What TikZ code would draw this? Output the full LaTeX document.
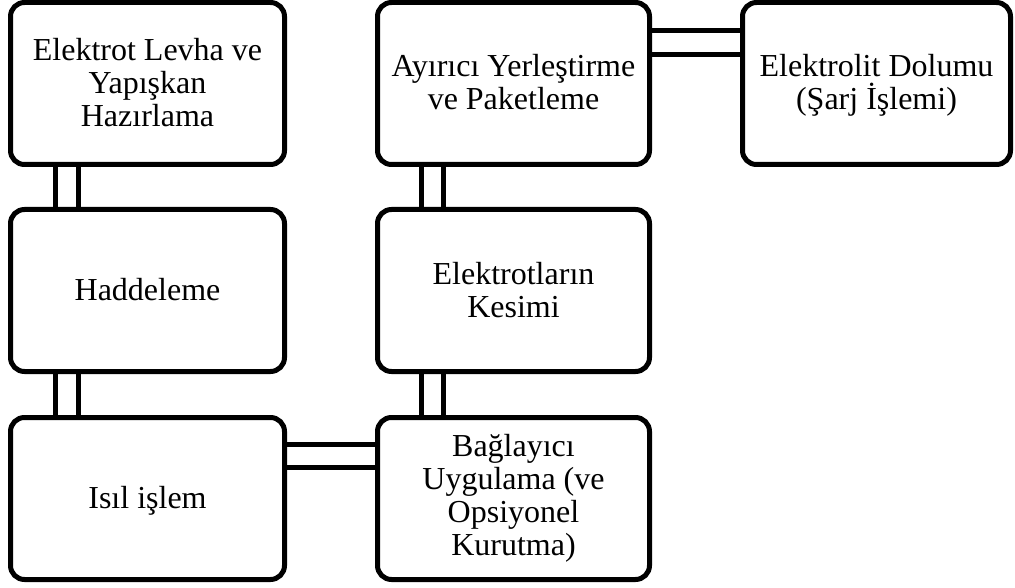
\documentclass[tikz,border=0pt]{standalone}
\usepackage{fontspec}
\setmainfont{Liberation Serif}
% fixed height for the first text line of a step
\newcommand\tallrow{\rule{0pt}{27pt}}
\begin{document}
\begin{tikzpicture}[x=1pt,y=-1pt,
  stepbox/.style={draw=black, line width=5pt, rounded corners=14pt, fill=white,
    minimum width=274pt, minimum height=162pt, inner sep=0pt, outer sep=0pt,
    align=center, font=\fontsize{32}{33}\selectfont,
    execute at end node={\rule[-7pt]{0pt}{0pt}}},
  link/.style={draw=black, line width=5pt}]
\useasboundingbox (0,0) rectangle (1015,588);

% process steps
\node[stepbox] (prep) at (147.5,83.5) {\tallrow Elektrot Levha ve\\Yapışkan\\Hazırlama};
\node[stepbox] (roll) at (147.5,290.5) {\tallrow Haddeleme};
\node[stepbox] (heat) at (147.5,498.5) {\tallrow Isıl işlem};
\node[stepbox, minimum width=272pt] (bind) at (513.5,498.5) {Bağlayıcı\\Uygulama (ve\\Opsiyonel\\Kurutma)};
\node[stepbox, minimum width=272pt] (cut) at (513.5,290.5) {\tallrow Elektrotların\\Kesimi};
\node[stepbox, minimum width=272pt] (sep) at (513.5,83.5) {\tallrow Ayırıcı Yerleştirme\\ve Paketleme};
\node[stepbox, minimum width=268pt] (fill) at (876.5,83.5) {\tallrow Elektrolit Dolumu\\(Şarj İşlemi)};

% double-line links
\foreach \dx in {44.5,67.5} {
  \draw[link] ([xshift=\dx pt]prep.south west) -- ([xshift=\dx pt]roll.north west);
  \draw[link] ([xshift=\dx pt]roll.south west) -- ([xshift=\dx pt]heat.north west);
}
\foreach \dx in {43.5,65.5} {
  \draw[link] ([xshift=\dx pt]bind.north west) -- ([xshift=\dx pt]cut.south west);
  \draw[link] ([xshift=\dx pt]cut.north west) -- ([xshift=\dx pt]sep.south west);
}
\foreach \dy in {27,50} {
  \draw[link] ([yshift=-\dy pt]heat.north east) -- ([yshift=-\dy pt]bind.north west);
}
\foreach \dy in {28,52} {
  \draw[link] ([yshift=-\dy pt]sep.north east) -- ([yshift=-\dy pt]fill.north west);
}
\end{tikzpicture}
\end{document}
